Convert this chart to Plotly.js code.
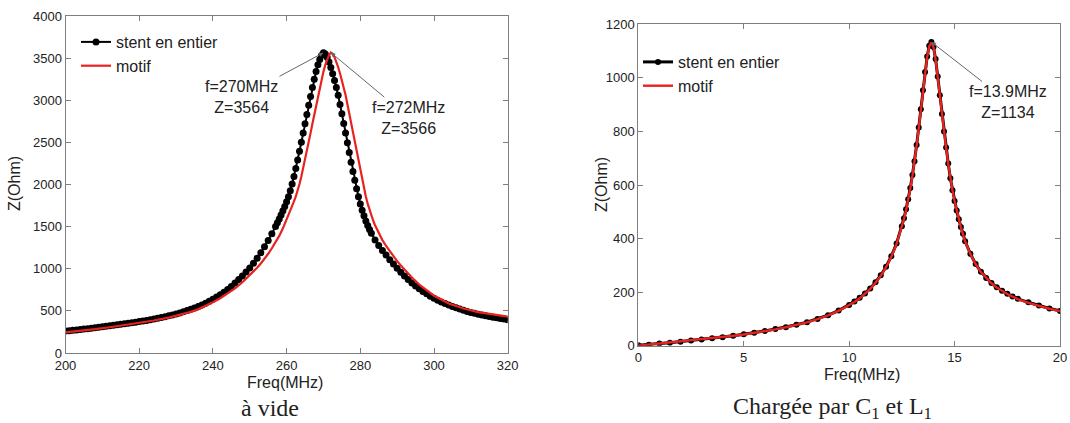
<!DOCTYPE html>
<html>
<head>
<meta charset="utf-8">
<script src="https://cdn.plot.ly/plotly-3.0.1.min.js"></script>
<style>html,body{margin:0;padding:0;background:#fff;}#chart{width:1070px;height:423px;}</style>
</head>
<body>
<div id="chart"></div>
<script>
// ---------- Left panel: "à vide" ----------
const freqStentA = [200,201,202,203,204,205,206,207,208,209,210,211,212,213,214,215,216,217,218,219,220,
 221,222,223,224,225,226,227,228,229,230,231,232,233,234,235,236,237,238,239,240,
 241,242,243,244,245,246,247,248,249,250,251,252,253,254,255,256,257,
 257.5,258,258.5,259,259.5,260,260.5,261,261.5,262,262.5,263,263.5,264,264.5,265,265.5,266,266.5,267,267.5,268,268.5,269,269.5,270,
 270.5,271,271.5,272,272.5,273,273.5,274,274.5,275,275.5,276,276.5,277,277.5,278,278.5,279,279.5,280,280.5,281,281.5,282,282.5,283,
 284,285,286,287,288,289,290,291,292,293,294,295,296,297,298,299,300,
 301,302,303,304,305,306,307,308,309,310,311,312,313,314,315,316,317,318,319,320];
const stentA = [260,264,269,274,279,284,289,294,299,305,311,317,323,329,335,341,347,353,359,366,373,
 380,387,395,403,412,421,431,441,452,464,476,489,503,518,534,551,570,590,613,637,
 665,692,722,755,790,830,872,915,960,1010,1065,1125,1190,1260,1335,1415,1500,
 1545,1590,1638,1688,1740,1795,1855,1925,2005,2095,2190,2290,2395,2500,2610,2720,2830,2940,3045,3150,3250,3340,3420,3485,3535,3564,
 3550,3510,3455,3390,3315,3235,3150,3060,2950,2840,2725,2610,2495,2380,2265,2155,2050,1950,1855,1770,1695,1628,1568,1514,1465,1420,
 1342,1276,1218,1162,1108,1056,1006,958,913,871,832,796,762,731,702,675,650,
 627,606,587,569,552,536,521,507,494,482,471,461,451,442,433,425,417,410,403,396];

const freqMotifA = [200,204,208,212,216,220,224,228,232,234,236,238,240,242,244,246,248,250,251,252,253,254,255,256,257,258,259,260,261,
 262,262.5,263,263.5,264,264.5,265,265.5,266,266.5,267,267.5,268,268.5,269,269.5,270,270.5,271,271.5,272,
 272.5,273,273.5,274,274.5,275,275.5,276,276.5,277,277.5,278,278.5,279,279.5,280,280.5,281,281.5,282,282.5,283,283.5,284,284.5,285,
 286,287,288,289,290,291,292,293,294,296,298,300,304,308,312,316,320];
const motifA = [245,262,283,306,330,356,386,420,462,488,518,557,603,650,705,768,840,920,965,1012,1063,1118,1178,1243,1313,1390,1480,1580,1690,
 1800,1858,1925,2005,2095,2190,2290,2395,2500,2610,2720,2830,2940,3045,3150,3250,3340,3420,3485,3535,3566,
 3552,3512,3457,3392,3317,3237,3152,3062,2952,2842,2727,2612,2497,2382,2267,2157,2052,1952,1857,1772,1697,1630,1570,1516,1467,1422,
 1340,1270,1205,1145,1090,1038,988,940,895,812,742,680,588,528,486,455,432];

// ---------- Right panel: "Chargée par C1 et L1" ----------
const freqC = [0,0.5,1,1.5,2,2.5,3,3.5,4,4.5,5,5.5,6,6.5,7,7.5,8,8.5,9,9.5,10,
 10.25,10.5,10.75,11,11.25,11.5,11.75,12,12.25,
 12.5,12.6,12.7,12.8,12.9,13,13.1,13.2,13.3,13.4,13.5,13.6,13.7,13.8,13.9,14,14.1,14.2,14.3,14.4,14.5,14.6,14.7,14.8,14.9,15,15.1,15.2,15.3,15.4,15.5,
 15.75,16,16.25,16.5,16.75,17,17.25,17.5,17.75,18,18.5,19,19.5,20];
const stentC = [2,4,8,11,15,19,23,28,32,37,43,48,55,62,69,78,88,100,114,131,152,
 165,179,195,214,237,263,295,334,382,
 446,476,509,547,589,637,689,749,815,883,954,1022,1080,1120,1134,1115,1070,1005,935,865,800,740,680,625,580,540,505,472,443,418,390,
 343,305,276,253,234,218,205,194,184,175,162,150,139,130];
const motifC = [0,4,7,11,15,19,23,27,32,37,42,48,54,61,69,77,87,99,113,130,150,
 163,177,193,212,235,261,293,332,380,
 443,473,506,544,586,634,686,746,812,880,951,1019,1078,1118,1132,1114,1068,1003,933,863,798,738,679,624,579,539,504,471,442,416,389,
 342,304,275,252,233,217,204,193,183,174,160,148,138,129];

const seriesNames = ['stent en entier', 'motif'];
const W = 1070, H = 423;
const px = v => v / W, py = v => 1 - v / H;

const sans = 'Liberation Sans, Arial, Helvetica, sans-serif';
const serif = 'Liberation Serif, Times New Roman, serif';
const axisGray = '#7f7f7f';
const black = '#000000', red = '#e8231f';

const traces = [
  {x: freqStentA, y: stentA, type: 'scatter', mode: 'lines+markers', name: seriesNames[0],
   line: {color: black, width: 2}, marker: {color: black, size: 7}, xaxis: 'x', yaxis: 'y', legend: 'legend'},
  {x: freqMotifA, y: motifA, type: 'scatter', mode: 'lines', name: seriesNames[1],
   line: {color: red, width: 2.2}, xaxis: 'x', yaxis: 'y', legend: 'legend'},
  {x: freqC, y: stentC, type: 'scatter', mode: 'lines+markers', name: seriesNames[0],
   line: {color: black, width: 3}, marker: {color: black, size: 6}, xaxis: 'x2', yaxis: 'y2', legend: 'legend2'},
  {x: freqC, y: motifC, type: 'scatter', mode: 'lines', name: seriesNames[1],
   line: {color: red, width: 2.4}, xaxis: 'x2', yaxis: 'y2', legend: 'legend2'}
];

function axis(extra) {
  return Object.assign({
    showline: true, mirror: 'ticks', linecolor: axisGray, linewidth: 1,
    ticks: 'inside', ticklen: 5, tickcolor: axisGray, tickwidth: 1,
    showgrid: false, zeroline: false, fixedrange: true,
    tickfont: {family: sans, size: 13, color: '#222'}
  }, extra);
}

const ann = [];
function txt(text, x, y, size, fam, angle) {
  ann.push({text: text, xref: 'paper', yref: 'paper', x: px(x), y: py(y), xanchor: 'center', yanchor: 'middle',
    showarrow: false, textangle: angle || 0, font: {family: fam, size: size, color: '#222'}});
}
txt('Freq(MHz)', 285, 382, 16, sans);
txt('Freq(MHz)', 862, 374, 16, sans);
txt('Z(Ohm)', 15, 184, 16, sans, -90);
txt('Z(Ohm)', 601, 185, 16, sans, -90);
txt('à vide', 270, 408, 24, serif);
txt('Chargée par C<sub>1</sub> et L<sub>1</sub>', 832, 408, 24, serif);

function tip(text, x, y, xr, yr, ax, ay) {
  ann.push({text: text, x: x, y: y, xref: xr, yref: yr, ax: ax, ay: ay, showarrow: true,
    arrowhead: 2, arrowsize: 0.9, arrowwidth: 1, arrowcolor: '#666', standoff: 0,
    align: 'center', font: {family: sans, size: 16, color: '#222'}});
}
tip('f=270MHz<br>Z=3564', freqStentA[stentA.indexOf(3564)], 3564, 'x', 'y', -82, 44);
tip('f=272MHz<br>Z=3566', freqMotifA[motifA.indexOf(3566)], 3566, 'x', 'y', 78, 65);
tip('f=13.9MHz<br>Z=1134', freqC[stentC.indexOf(1134)], 1134, 'x2', 'y2', 77, 60);

const layout = {
  width: W, height: H,
  margin: {l: 0, r: 0, t: 0, b: 0},
  paper_bgcolor: '#fff', plot_bgcolor: '#fff',
  showlegend: true,
  xaxis: axis({domain: [px(65.5), px(507.7)], range: [200, 320], tick0: 200, dtick: 20, anchor: 'y'}),
  yaxis: axis({domain: [py(353), py(16)], range: [0, 4000], tick0: 0, dtick: 500, anchor: 'x'}),
  xaxis2: axis({domain: [px(638.3), px(1060)], range: [0, 20], tick0: 0, dtick: 5, anchor: 'y2'}),
  yaxis2: axis({domain: [py(345.7), py(24.3)], range: [0, 1200], tick0: 0, dtick: 200, anchor: 'x2'}),
  legend: {x: px(76), y: py(25), xanchor: 'left', yanchor: 'top', bgcolor: 'rgba(0,0,0,0)',
    font: {family: sans, size: 16, color: '#222'}, itemwidth: 30, tracegroupgap: 0},
  legend2: {x: px(638), y: py(45), xanchor: 'left', yanchor: 'top', bgcolor: 'rgba(0,0,0,0)',
    font: {family: sans, size: 16, color: '#222'}, itemwidth: 30, tracegroupgap: 0},
  annotations: ann
};

Plotly.newPlot('chart', traces, layout, {displayModeBar: false, staticPlot: true});
</script>
</body>
</html>
